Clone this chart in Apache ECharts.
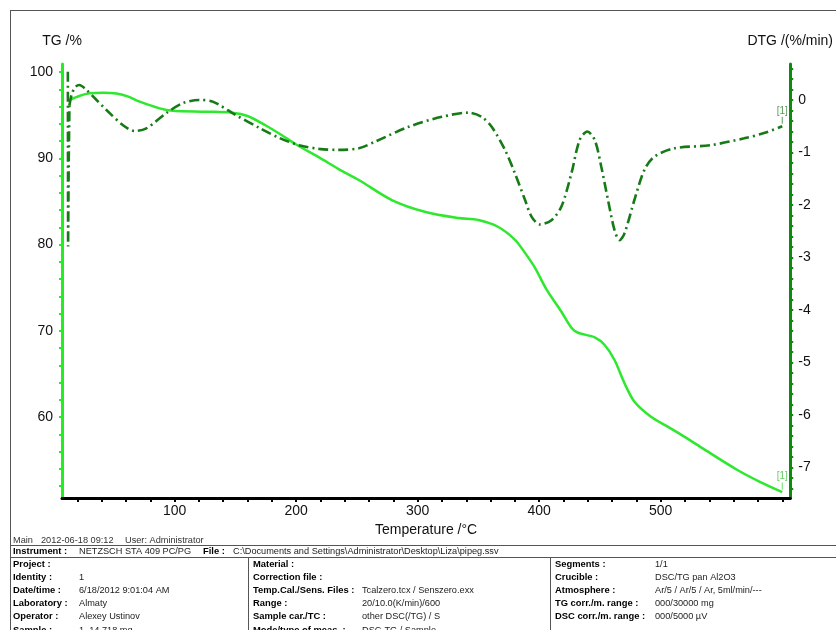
<!DOCTYPE html>
<html>
<head>
<meta charset="utf-8">
<script src="https://cdn.jsdelivr.net/npm/echarts@6/dist/echarts.min.js"></script>
<style>html,body{margin:0;padding:0;background:#fff;}#c{width:836px;height:630px;}</style>
</head>
<body>
<div id="c"></div>
<script>
// ---- data ----
const tgTemp = [13.5, 22.1, 30.3, 41.2, 52.2, 62, 71.3, 87.7, 98.4, 126, 147.5, 160, 175, 188, 200, 218.9, 235, 251.6, 278.7, 306.6, 333.6, 350, 366.4, 380.3, 388.5, 396.7, 406.0, 418.3, 426.5, 432.0, 445.7, 453.9, 462.0, 470.2, 478.4, 492.0, 505.7, 519.4, 535.8, 563.1, 582, 600];
const tgValue = [96.75, 97.25, 97.53, 97.6, 97.5, 97.15, 96.56, 95.79, 95.51, 95.40, 95.28, 94.9, 93.8, 92.7, 91.6, 90.1, 88.75, 87.48, 85.16, 83.77, 83.07, 82.84, 82.03, 80.52, 79.0, 77.27, 74.8, 72.2, 70.35, 69.77, 69.24, 68.35, 66.61, 63.91, 61.77, 60.03, 58.88, 57.72, 56.25, 53.86, 52.46, 51.3];

// initial transient of the DTG signal (drawn without smoothing)
const dtgSpikeTemp = [12.2, 12.4, 12.9, 13.5];
const dtgSpikeValue = [0.54, -2.79, -1.2, -0.1];
const dtgTemp = [13.5, 15.5, 18.5, 21.6, 27.6, 35, 44, 57.6, 67.2, 76.8, 93.2, 106.8, 120.5, 131.4, 150.6, 169.7, 186, 202.5, 218.9, 235, 251.6, 265.3, 292.6, 319.9, 341.8, 352.7, 360.9, 371.9, 380.1, 388.3, 393.7, 400.6, 410.1, 418.3, 426.5, 433.3, 439.6, 445.7, 451.1, 456.6, 462.0, 466.1, 470.2, 478.4, 486.6, 494.8, 511.2, 541.2, 568.6, 585, 600];
const dtgValue = [-0.1, 0.12, 0.25, 0.286, 0.19, 0.02, -0.19, -0.48, -0.59, -0.54, -0.25, -0.06, 0.0, -0.03, -0.29, -0.53, -0.72, -0.86, -0.93, -0.95, -0.92, -0.79, -0.51, -0.32, -0.24, -0.32, -0.51, -0.95, -1.40, -1.90, -2.22, -2.37, -2.29, -2.03, -1.40, -0.76, -0.60, -0.76, -1.27, -1.90, -2.48, -2.67, -2.54, -1.90, -1.33, -1.08, -0.92, -0.86, -0.73, -0.63, -0.50];

const xLabelValues = [100, 200, 300, 400, 500];
const xTickValues = [20, 40, 60, 80, 100, 120, 140, 160, 180, 200, 220, 240, 260, 280, 300, 320, 340, 360, 380, 400, 420, 440, 460, 480, 500, 520, 540, 560, 580, 600];
const tgLabelValues = [60, 70, 80, 90, 100];
const tgTickValues = [52, 54, 56, 58, 60, 62, 64, 66, 68, 70, 72, 74, 76, 78, 80, 82, 84, 86, 88, 90, 92, 94, 96, 98, 100];
const dtgLabelValues = [-7, -6, -5, -4, -3, -2, -1, 0];
const dtgTickValues = [-7.4, -7.2, -7, -6.8, -6.6, -6.4, -6.2, -6, -5.8, -5.6, -5.4, -5.2, -5, -4.8, -4.6, -4.4, -4.2, -4, -3.8, -3.6, -3.4, -3.2, -3, -2.8, -2.6, -2.4, -2.2, -2, -1.8, -1.6, -1.4, -1.2, -1, -0.8, -0.6, -0.4, -0.2, 0, 0.2, 0.4, 0.6];

const headerItems = ['Main', '2012-06-18 09:12', 'User: Administrator'];
const instrumentRow = ['Instrument :', 'NETZSCH STA 409 PC/PG', 'File :', 'C:\\Documents and Settings\\Administrator\\Desktop\\Liza\\pipeg.ssv'];
const col1Labels = ['Project :', 'Identity :', 'Date/time :', 'Laboratory :', 'Operator :', 'Sample :'];
const col1Values = ['', '1', '6/18/2012 9:01:04 AM', 'Almaty', 'Alexey Ustinov', '1, 14.718 mg'];
const col2Labels = ['Material :', 'Correction file :', 'Temp.Cal./Sens. Files :', 'Range :', 'Sample car./TC :', 'Mode/type of meas. :'];
const col2Values = ['', '', 'Tcalzero.tcx / Senszero.exx', '20/10.0(K/min)/600', 'other DSC(/TG) / S', 'DSC-TG / Sample'];
const col3Labels = ['Segments :', 'Crucible :', 'Atmosphere :', 'TG corr./m. range :', 'DSC corr./m. range :'];
const col3Values = ['1/1', 'DSC/TG pan Al2O3', 'Ar/5 / Ar/5 / Ar, 5ml/min/---', '000/30000 mg', '000/5000 \u00b5V'];

// ---- chart ----
const TG_COLOR = '#2ee82e';
const DTG_COLOR = '#167a16';
const FONT = 'Liberation Sans, Arial, sans-serif';
const DTG_DASH = [10, 4, 2, 4];

const tgData = tgTemp.map((t, i) => [t, tgValue[i]]);
const dtgData = dtgTemp.map((t, i) => [t, dtgValue[i]]);
const dtgSpikeData = dtgSpikeTemp.map((t, i) => [t, dtgSpikeValue[i]]);

const gfx = [];
const lineC = '#555';
function hline(x1, x2, y) { gfx.push({type: 'line', shape: {x1: x1, y1: y, x2: x2, y2: y}, style: {stroke: lineC, lineWidth: 1}, silent: true}); }
function vline(x, y1, y2) { gfx.push({type: 'line', shape: {x1: x, y1: y1, x2: x, y2: y2}, style: {stroke: lineC, lineWidth: 1}, silent: true}); }
function txt(s, x, y, bold, color) {
  gfx.push({type: 'text', x: x, y: y, silent: true,
    style: {text: s, fill: color || '#222', font: bold ? 'bold 9.4px "Liberation Sans", Arial, sans-serif' : '9.2px "Liberation Sans", Arial, sans-serif', verticalAlign: 'middle', align: 'left'}});
}
hline(10, 836, 10.5);
vline(10.5, 10, 630);
hline(10, 836, 545.5);
hline(10, 836, 557.5);
vline(248.5, 557, 630);
vline(550.5, 557, 630);
txt(headerItems[0], 13, 540, false, '#333');
txt(headerItems[1], 41, 540, false, '#333');
txt(headerItems[2], 125, 540, false, '#333');
txt(instrumentRow[0], 13, 551.5, true, '#000');
txt(instrumentRow[1], 79, 551.5, false);
txt(instrumentRow[2], 203, 551.5, true, '#000');
txt(instrumentRow[3], 233, 551.5, false);
const rowY = [564, 577.2, 590.4, 603.6, 616.8, 630];
col1Labels.forEach((s, i) => { txt(s, 13, rowY[i], true, '#000'); txt(col1Values[i], 79, rowY[i], false); });
col2Labels.forEach((s, i) => { txt(s, 253, rowY[i], true, '#000'); txt(col2Values[i], 362, rowY[i], false); });
col3Labels.forEach((s, i) => { txt(s, 555, rowY[i], true, '#000'); txt(col3Values[i], 655, rowY[i], false); });

const chart = echarts.init(document.getElementById('c'), null, {renderer: 'canvas'});
chart.setOption({
  animation: false,
  backgroundColor: '#fff',
  grid: {left: 62, right: 43, top: 64, bottom: 132, containLabel: false},
  xAxis: {
    type: 'value', min: 7.38, max: 606.56,
    name: 'Temperature /\u00b0C', nameLocation: 'middle', nameGap: 21,
    nameTextStyle: {fontSize: 14, color: '#111', fontFamily: FONT},
    axisLine: {show: true, onZero: false, lineStyle: {color: '#000', width: 3}},
    axisTick: {show: true, customValues: xTickValues, length: 4, inside: false, lineStyle: {color: '#000', width: 2}},
    axisLabel: {customValues: xLabelValues, fontSize: 14, color: '#111', fontFamily: FONT, margin: 6},
    splitLine: {show: false}
  },
  yAxis: [{
    type: 'value', min: 50.61, max: 100.93, position: 'left',
    name: 'TG /%', nameLocation: 'end', nameGap: 16,
    nameTextStyle: {fontSize: 14, color: '#111', fontFamily: FONT, align: 'center'},
    axisLine: {show: true, onZero: false, lineStyle: {color: '#22ee22', width: 3}},
    axisTick: {show: true, customValues: tgTickValues, length: 3, lineStyle: {color: '#22ee22', width: 2}},
    axisLabel: {customValues: tgLabelValues, fontSize: 14, color: '#111', fontFamily: FONT, margin: 9},
    splitLine: {show: false}
  }, {
    type: 'value', min: -7.581, max: 0.686, position: 'right',
    name: 'DTG /(%/min)', nameLocation: 'end', nameGap: 16,
    nameTextStyle: {fontSize: 14, color: '#111', fontFamily: FONT, align: 'center'},
    axisLine: {show: true, onZero: false, lineStyle: {color: '#0e8a0e', width: 3}},
    axisTick: {show: true, customValues: dtgTickValues, length: 3, lineStyle: {color: '#0e8a0e', width: 2}},
    axisLabel: {customValues: dtgLabelValues, fontSize: 14, color: '#111', fontFamily: FONT, margin: 8},
    splitLine: {show: false}
  }],
  series: [{
    name: 'TG', type: 'line', xAxisIndex: 0, yAxisIndex: 0, data: tgData,
    showSymbol: false, smooth: 0.3, z: 3,
    lineStyle: {color: TG_COLOR, width: 2.5}, itemStyle: {color: TG_COLOR},
    markPoint: {symbol: 'rect', symbolSize: [1, 7], symbolOffset: [0, -6], silent: true,
      itemStyle: {color: '#66dd66'},
      label: {show: true, position: 'top', distance: 1, formatter: '[1]', color: '#66cc66', fontSize: 10, fontFamily: FONT},
      data: [{coord: [600, 51.3]}]}
  }, {
    name: 'DTG', type: 'line', xAxisIndex: 0, yAxisIndex: 1, data: dtgSpikeData,
    showSymbol: false, smooth: false, z: 4,
    lineStyle: {color: DTG_COLOR, width: 2.6, type: DTG_DASH}, itemStyle: {color: DTG_COLOR}
  }, {
    name: 'DTG', type: 'line', xAxisIndex: 0, yAxisIndex: 1, data: dtgData,
    showSymbol: false, smooth: 0.3, z: 4,
    lineStyle: {color: DTG_COLOR, width: 2.6, type: DTG_DASH}, itemStyle: {color: DTG_COLOR},
    markPoint: {symbol: 'rect', symbolSize: [1, 7], symbolOffset: [0, -6], silent: true,
      itemStyle: {color: '#5a9a5a'},
      label: {show: true, position: 'top', distance: 1, formatter: '[1]', color: '#5a9a5a', fontSize: 10, fontFamily: FONT},
      data: [{coord: [600, -0.50]}]}
  }],
  graphic: gfx
});
</script>
</body>
</html>
